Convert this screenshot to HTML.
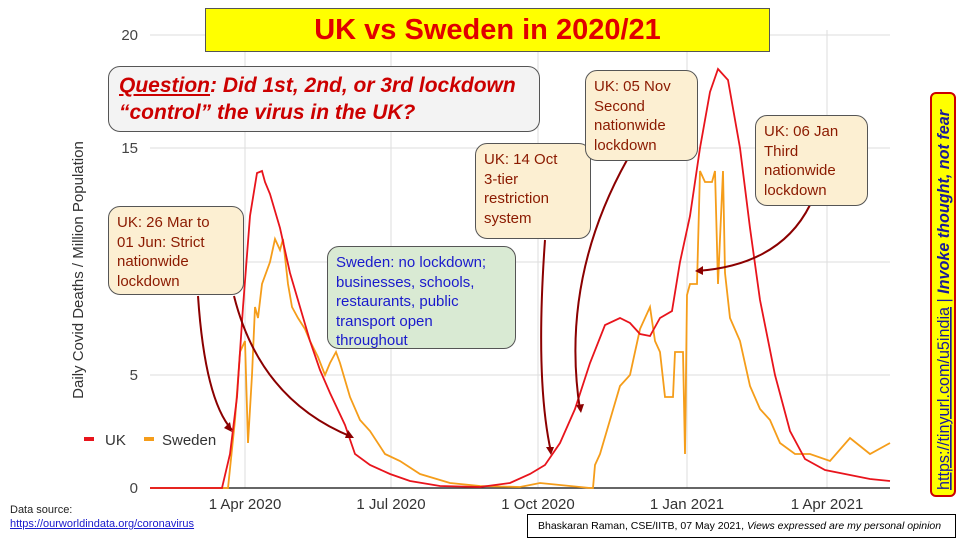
<!DOCTYPE html>
<html><head><meta charset="utf-8"><style>
body{margin:0;width:960px;height:540px;overflow:hidden;background:#fff;font-family:"Liberation Sans",sans-serif}
.b{position:absolute;box-sizing:border-box;border:1px solid #555;border-radius:12px;padding:6px 8px;font-size:15px;line-height:19.5px;white-space:nowrap}
.o{background:#fcefd2;color:#8b1a00}
</style></head><body>
<svg width="960" height="540" style="position:absolute;left:0;top:0">
<g stroke="#ddd" stroke-width="1">
<line x1="150" y1="35" x2="890" y2="35"/><line x1="150" y1="148" x2="890" y2="148"/><line x1="150" y1="262" x2="890" y2="262"/><line x1="150" y1="375" x2="890" y2="375"/>
<line x1="245" y1="30" x2="245" y2="488"/><line x1="391" y1="30" x2="391" y2="488"/><line x1="538" y1="30" x2="538" y2="488"/><line x1="687" y1="30" x2="687" y2="488"/><line x1="827" y1="30" x2="827" y2="488"/>
</g>
<line x1="150" y1="488" x2="890" y2="488" stroke="#333" stroke-width="1.5"/>
<g font-size="15" fill="#444" text-anchor="end">
<text x="138" y="40">20</text><text x="138" y="153">15</text><text x="138" y="380">5</text><text x="138" y="493">0</text></g>
<g font-size="15" fill="#333" text-anchor="middle">
<text x="245" y="509">1 Apr 2020</text><text x="391" y="509">1 Jul 2020</text><text x="538" y="509">1 Oct 2020</text><text x="687" y="509">1 Jan 2021</text><text x="827" y="509">1 Apr 2021</text></g>
<text transform="translate(83,270) rotate(-90)" font-size="15" fill="#333" text-anchor="middle">Daily Covid Deaths / Million Population</text>
<polyline fill="none" stroke="#f59d1a" stroke-width="1.8" points="150,488 228,488 235,420 240,352 245,341 248,443 252,375 255,307 258,318 262,284 270,262 275,239 280,250 283,239 288,284 292,307 298,318 305,329 310,341 318,357 325,375 330,363 336,352 340,363 350,397 360,420 370,431 385,454 400,461 420,474 450,483 480,486 520,487 540,483 570,486 590,488 593,488 595,465 600,454 610,420 620,386 630,375 640,329 650,307 655,341 660,352 665,397 673,397 675,352 683,352 685,454 687,295 690,284 697,284 700,171 705,182 712,182 715,171 718,284 723,171 725,273 730,318 740,341 750,386 760,409 770,420 780,443 795,454 810,454 830,461 850,438 870,454 890,443"/>
<polyline fill="none" stroke="#e8141c" stroke-width="1.8" points="150,488 222,488 230,454 237,397 243,307 250,216 257,173 262,171 265,182 270,194 280,228 290,273 300,307 310,341 320,370 330,393 345,425 355,454 370,465 390,474 410,481 440,486 480,487 510,483 530,474 545,465 560,443 575,409 590,363 605,325 620,318 630,323 640,334 650,336 660,318 672,311 680,262 690,216 700,148 710,92 718,69 728,80 740,148 750,228 760,300 775,375 790,431 805,459 825,470 845,474 870,479 890,481"/>
<g fill="none" stroke="#8b0000" stroke-width="2">
<path d="M198,296 Q205,400 232,430"/><path d="M234,296 Q260,400 352,437"/>
<path d="M545,240 Q535,380 551,452"/><path d="M627,160 Q560,280 580,410"/>
<path d="M810,205 Q780,265 697,271"/></g>
<g fill="#8b0000"><path d="M232,432 l-8,-4 l6,-6z"/><path d="M354,438 l-9,0 l3,-8z"/><path d="M551,455 l-5,-8 l8,0z"/><path d="M581,413 l-5,-8 l8,-1z"/><path d="M695,271 l8,-5 l0,9z"/></g>
<rect x="84" y="437" width="10" height="4" fill="#e8141c"/><text x="105" y="445" font-size="15" fill="#333">UK</text>
<rect x="144" y="437" width="10" height="4" fill="#f59d1a"/><text x="162" y="445" font-size="15" fill="#333">Sweden</text>
<rect x="931" y="93" width="24" height="403" rx="5" fill="#ffff00" stroke="#c00" stroke-width="2"/>
<text transform="translate(949,490) rotate(-90)" font-size="16.5" fill="#1a1a9a" textLength="380" lengthAdjust="spacingAndGlyphs"><tspan text-decoration="underline">https://tinyurl.com/u5india</tspan> | <tspan font-weight="bold" font-style="italic">Invoke thought, not fear</tspan></text>
</svg>
<div style="position:absolute;left:205px;top:8px;width:565px;height:44px;background:#ffff00;border:1px solid #555;box-sizing:border-box;color:#e00000;font-weight:bold;font-size:29px;text-align:center;line-height:42px">UK vs Sweden in 2020/21</div>
<div class="b" style="left:108px;top:66px;width:432px;height:66px;background:#f3f3f3;color:#cc0000;font-weight:bold;font-style:italic;font-size:21px;line-height:27px;padding:5px 10px"><u>Question</u>: Did 1st, 2nd, or 3rd lockdown<br>“control” the virus in the UK?</div>
<div class="b o" style="left:108px;top:206px;width:136px;height:89px">UK: 26 Mar to<br>01 Jun: Strict<br>nationwide<br>lockdown</div>
<div class="b" style="left:327px;top:246px;width:189px;height:103px;background:#d9ead3;color:#1a1acc">Sweden: no lockdown;<br>businesses, schools,<br>restaurants, public<br>transport open<br>throughout</div>
<div class="b o" style="left:475px;top:143px;width:116px;height:96px">UK: 14 Oct<br>3-tier<br>restriction<br>system</div>
<div class="b o" style="left:585px;top:70px;width:113px;height:91px">UK: 05 Nov<br>Second<br>nationwide<br>lockdown</div>
<div class="b o" style="left:755px;top:115px;width:113px;height:91px">UK: 06 Jan<br>Third<br>nationwide<br>lockdown</div>
<div style="position:absolute;left:10px;top:503px;font-size:11px;color:#222;line-height:14px">Data source:<br><u style="color:#1a1acc">https://ourworldindata.org/coronavirus</u></div>
<div style="position:absolute;left:527px;top:514px;width:429px;height:24px;border:1px solid #000;box-sizing:border-box;font-size:10.5px;line-height:22px;padding-left:10px;background:#fff;white-space:nowrap;overflow:hidden">Bhaskaran Raman, CSE/IITB, 07 May 2021, <i>Views expressed are my personal opinion</i></div>
</body></html>
